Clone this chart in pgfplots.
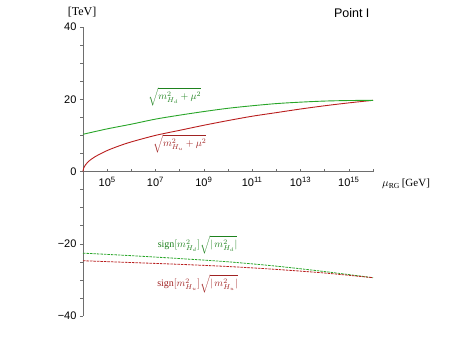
\documentclass[border=0pt]{standalone}
\usepackage{fontspec}
\setmainfont{Liberation Serif}
\setsansfont{Liberation Sans}
\usepackage{pgfplots}
\pgfplotsset{compat=1.18}
\definecolor{cg}{RGB}{40,165,40}
\definecolor{cr}{RGB}{185,30,30}
\definecolor{lg}{RGB}{30,130,30}
\definecolor{lr}{RGB}{160,35,35}
\definecolor{axc}{RGB}{110,110,110}
\begin{document}
\begin{tikzpicture}
\begin{axis}[
    at={(0pt,0pt)}, anchor=south west, scale only axis,
    width=290pt, height=289pt,
    xmin=4, xmax=16, ymin=-40, ymax=40,
    axis x line=middle, axis y line=left,
    axis line style={-, axc, line width=0.6pt},
    xtick={5,7,9,11,13,15},
    xticklabels={10\textsuperscript{5},10\textsuperscript{7},10\textsuperscript{9},10\textsuperscript{11},10\textsuperscript{13},10\textsuperscript{15}},
    minor xtick={4,6,8,10,12,14,16},
    ytick={-40,-20,0,20,40},
    yticklabels={−40,−20,0,20,40},
    minor ytick={-35,-30,-25,-15,-10,-5,5,10,15,25,30,35},
    major tick length=3pt, minor tick length=2.5pt,
    every tick/.style={axc, line width=0.5pt},
    xtick align=inside, ytick align=outside,
    ticklabel style={font=\sffamily\fontsize{11}{13}\selectfont, text=black},
    xticklabel style={yshift=-2.5pt},
    clip=false,
]
\addplot[cr, line width=0.9pt, smooth] coordinates {
 (4,0) (4.03,1.0) (4.1,1.8) (4.25,2.9) (4.5,4.1) (5,5.8) (5.5,7.1) (6,8.2) (7,10.0)
 (8,11.4) (9,12.8) (10,14.1) (11,15.3) (12,16.3) (13,17.3) (14,18.2) (15,19.0) (16,19.7)
};
\addplot[cg, line width=0.9pt, smooth] coordinates {
 (4,10.3) (5,11.8) (6,13.1) (7,14.5) (8,15.6) (9,16.6) (10,17.5) (11,18.2)
 (12,18.8) (13,19.2) (14,19.5) (15,19.65) (16,19.7)
};
\addplot[cg, line width=0.8pt, smooth, dash pattern=on 2.5pt off 1pt] coordinates {
 (4,-22.6) (6,-23.3) (8,-24.1) (10,-25.0) (12,-26.2) (14,-27.7) (16,-29.4)
};
\addplot[cr, line width=0.8pt, smooth, dash pattern=on 2.5pt off 1pt] coordinates {
 (4,-24.7) (6,-25.2) (8,-25.7) (10,-26.3) (12,-27.1) (14,-28.1) (16,-29.4)
};
\node[text=lg, font=\fontsize{10}{12}\selectfont] at (axis cs:7.8,20.6) {$\sqrt{m_{H_d}^2+\mu^2}$};
\node[text=lr, font=\fontsize{10}{12}\selectfont] at (axis cs:8.0,7.6) {$\sqrt{m_{H_u}^2+\mu^2}$};
\node[text=lg, font=\fontsize{10}{12}\selectfont] at (axis cs:8.74,-20.4) {sign$[m_{H_d}^2]\sqrt{|\,m_{H_d}^2|}$};
\node[text=lr, font=\fontsize{10}{12}\selectfont] at (axis cs:8.74,-31.2) {sign$[m_{H_u}^2]\sqrt{|\,m_{H_u}^2|}$};
\end{axis}
\node[font=\fontsize{12}{14}\selectfont] at (-1pt,304pt) {[TeV]};
\node[anchor=east, font=\sffamily\fontsize{12.5}{14}\selectfont] at (290pt,303pt) {Point I};
\node[anchor=west, inner sep=0pt, font=\fontsize{11}{13}\selectfont] at (299pt,132pt) {$\mu_{\mathrm{RG}}$\,[GeV]};
\path[use as bounding box] (-83pt,-27pt) rectangle (375pt,316pt);
\end{tikzpicture}
\end{document}
